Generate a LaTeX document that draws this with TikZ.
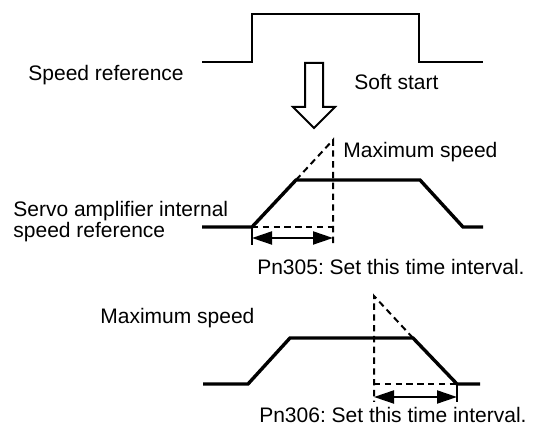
\documentclass[tikz,border=0pt]{standalone}
\usepackage{fontspec}
\setmainfont{Liberation Sans}
\usetikzlibrary{arrows.meta}

\tikzset{
  lbl/.style={font=\fontsize{10.5}{10.5}\selectfont\frenchspacing,inner sep=0pt},
  sig/.style={line width=1.7pt,line join=miter},
  dsh/.style={line width=1pt,dash pattern=on 3.2pt off 2.2pt},
  span/.style={line width=1pt,{Triangle[length=10pt,width=6.5pt]}-{Triangle[length=10pt,width=6.5pt]}}
}

\begin{document}
\begin{tikzpicture}[x=0.5pt,y=-0.5pt]
  \useasboundingbox (0,0) rectangle (537,443);

  \draw[line width=1.2pt] (202,62)--(252,62)--(252,14)--(419,14)--(419,62)--(483,62);
  \node[lbl,anchor=west] (ref) at (28,75) {Speed reference};
  \draw[line width=1pt,line join=miter] (305,63)--(323,63)--(323,107)--(335,107)--(314,128)--(293,107)--(305,107)--cycle;
  \node[lbl,anchor=west] (soft) at (354,82) {Soft start};

  \coordinate (a0) at (252,227);
  \coordinate (a1) at (296,180);
  \coordinate (a2) at (333,140);
  \draw[sig] (202,227)--(a0)--(a1)--(420,180)--(463,227)--(483,227);
  \draw[dsh] (a1)--(a2)--(333,245);
  \draw[dsh] (a0)--(333,227);
  \draw[line width=0.8pt] (a0)--(252,245);
  \draw[span] (252,238)--(333,238);
  \node[lbl,anchor=west] (max1) at (343,152) {Maximum speed};
  \node[lbl,anchor=west,align=left] (servo) at (13,222) {Servo amplifier internal\\speed reference};
  \node[lbl,anchor=east] (pn305) at (525,267) {Pn305: Set this time interval.};

  \coordinate (b0) at (413,338);
  \coordinate (b1) at (457,384);
  \coordinate (b2) at (374,296);
  \draw[sig] (203,384)--(248,384)--(290,338)--(b0)--(b1)--(480,384);
  \draw[dsh] (b0)--(b2)--(374,402);
  \draw[dsh] (374,384)--(b1);
  \draw[line width=0.8pt] (b1)--(457,402);
  \draw[span] (374,397)--(457,397);
  \node[lbl,anchor=west] (max2) at (100,318) {Maximum speed};
  \node[lbl,anchor=east] (pn306) at (527,415) {Pn306: Set this time interval.};
\end{tikzpicture}
\end{document}
